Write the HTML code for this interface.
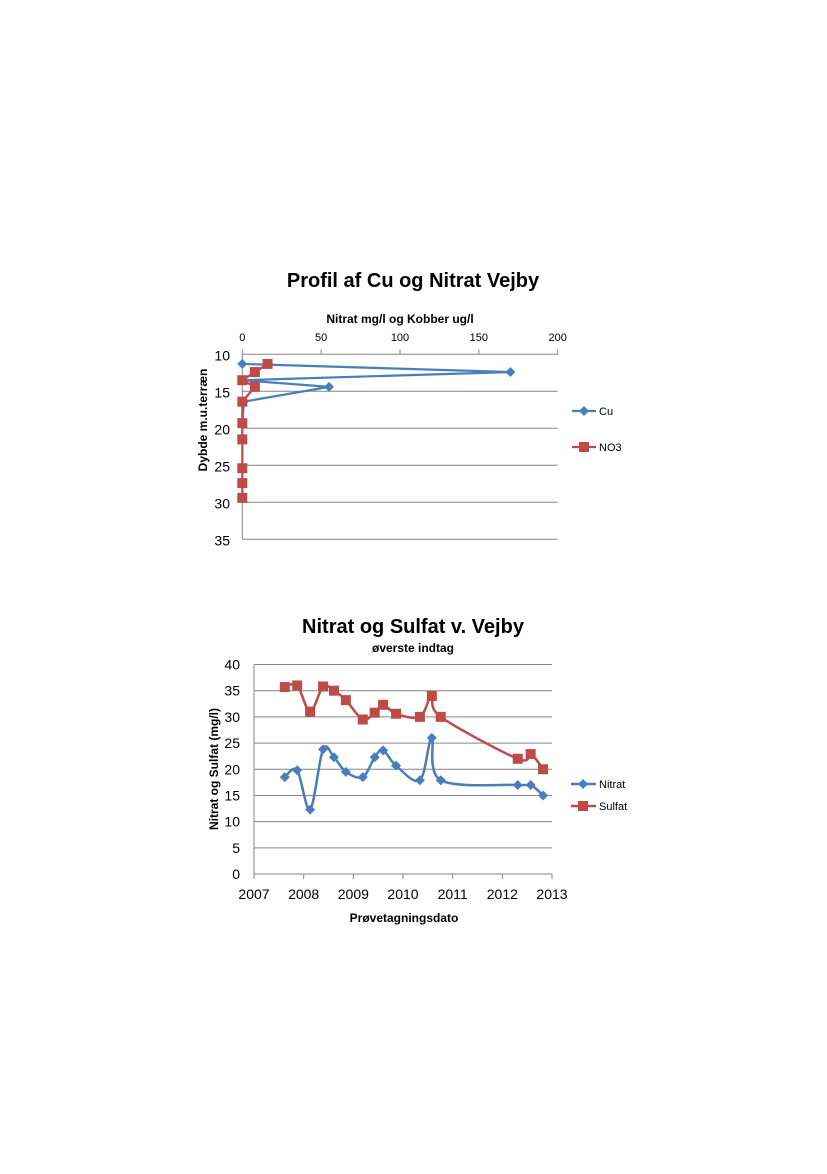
<!DOCTYPE html>
<html><head><meta charset="utf-8"><style>
body{margin:0;background:#fff;width:827px;height:1169px;overflow:hidden}
svg text{font-family:"Liberation Sans",sans-serif;fill:#000}
</style></head><body>
<svg width="827" height="1169">
<g id="c1">
<text x="413" y="287" text-anchor="middle" font-size="20" font-weight="bold">Profil af Cu og Nitrat Vejby</text>
<text x="400" y="323" text-anchor="middle" font-size="12" font-weight="bold">Nitrat mg/l og Kobber ug/l</text>
<text transform="translate(207,420) rotate(-90)" text-anchor="middle" font-size="12" font-weight="bold">Dybde m.u.terræn</text>
</g>
<g id="c2">
<text x="413" y="633" text-anchor="middle" font-size="20" font-weight="bold">Nitrat og Sulfat v. Vejby</text>
<text x="413" y="652" text-anchor="middle" font-size="12" font-weight="bold">øverste indtag</text>
<text x="404" y="922" text-anchor="middle" font-size="12" font-weight="bold">Prøvetagningsdato</text>
<text transform="translate(218,769) rotate(-90)" text-anchor="middle" font-size="12" font-weight="bold">Nitrat og Sulfat (mg/l)</text>
</g>
</svg>
<script>
const ns='http://www.w3.org/2000/svg';
function mk(p,t,a){const e=document.createElementNS(ns,t);for(const k in a)e.setAttribute(k,a[k]);p.appendChild(e);return e;}
// Chart 1 data
const c1XTicks=[0,50,100,150,200];
const c1YTicks=[10,15,20,25,30,35];
const cuX=[0,170,0,55,1,0];
const cuDepth=[11.3,12.4,13.5,14.4,16.4,19.3];
const no3X=[16,8,0,8,0,0,0,0,0,0];
const no3Depth=[11.3,12.4,13.5,14.4,16.4,19.3,21.5,25.4,27.4,29.4];
// Chart 2 data
const c2XTicks=[2007,2008,2009,2010,2011,2012,2013];
const c2YTicks=[0,5,10,15,20,25,30,35,40];
const dates=[2007.62,2007.87,2008.13,2008.39,2008.61,2008.85,2009.19,2009.43,2009.60,2009.86,2010.34,2010.58,2010.76,2012.31,2012.57,2012.82];
const nitrat=[18.5,19.8,12.3,23.8,22.3,19.5,18.5,22.3,23.6,20.7,17.9,26,17.9,17,17,15];
const sulfat=[35.7,36,31,35.8,35,33.2,29.5,30.8,32.3,30.6,30,34,30,22,22.9,20];

const BLUE='#4a7ebb',RED='#be4b48';
function diamond(g,x,y,c){const e=mk(g,'path',{d:`M${x} ${y-5}L${x+5} ${y}L${x} ${y+5}L${x-5} ${y}Z`,fill:c});

}
function square(g,x,y,c){const e=mk(g,'rect',{x:x-5,y:y-5,width:10,height:10,fill:c});

}
function smooth(pts){let d=`M${pts[0][0]} ${pts[0][1]}`;for(let i=0;i<pts.length-1;i++){const p0=pts[i-1]||pts[i],p1=pts[i],p2=pts[i+1],p3=pts[i+2]||p2;const t=6;d+=`C${p1[0]+(p2[0]-p0[0])/t} ${p1[1]+(p2[1]-p0[1])/t} ${p2[0]-(p3[0]-p1[0])/t} ${p2[1]-(p3[1]-p1[1])/t} ${p2[0]} ${p2[1]}`;}return d;}

// Chart 1
(function(){
const g=document.getElementById('c1');
const X0=242.3,X1=557.7,Y0=354.3,Y1=539.3;
const sx=v=>X0+(v-0)/200*(X1-X0), sy=v=>Y0+(v-10)/25*(Y1-Y0);
c1YTicks.forEach(t=>{const l=mk(g,'line',{x1:X0,x2:X1,y1:sy(t),y2:sy(t),stroke:'#868686','stroke-width':1});


const tx=mk(g,'text',{x:230,y:sy(t)+6,'text-anchor':'end','font-size':14});tx.textContent=t;

});
const ax=mk(g,'line',{x1:X0,x2:X0,y1:Y0,y2:Y1,stroke:'#868686'});


c1XTicks.forEach(t=>{const tk=mk(g,'line',{x1:sx(t),x2:sx(t),y1:Y0-5,y2:Y0,stroke:'#868686'});


const tx=mk(g,'text',{x:sx(t),y:341,'text-anchor':'middle','font-size':11});tx.textContent=t;

});
const lc=mk(g,'polyline',{points:cuX.map((v,i)=>sx(v)+','+sy(cuDepth[i])).join(' '),fill:'none',stroke:BLUE,'stroke-width':2.2});


cuX.slice(0,5).forEach((v,i)=>diamond(g,sx(v),sy(cuDepth[i]),BLUE));
const ln=mk(g,'polyline',{points:no3X.map((v,i)=>sx(v)+','+sy(no3Depth[i])).join(' '),fill:'none',stroke:RED,'stroke-width':2.2});


no3X.forEach((v,i)=>square(g,sx(v),sy(no3Depth[i]),RED));
[['Cu',BLUE,diamond,411],['NO3',RED,square,447]].forEach(([n,c,f,y])=>{
const l=mk(g,'line',{x1:572,x2:596,y1:y,y2:y,stroke:c,'stroke-width':2.2});


f(g,584,y,c);
const t=mk(g,'text',{x:599,y:y+4,'font-size':11});t.textContent=n;

});
})();

// Chart 2
(function(){
const g=document.getElementById('c2');
const X0=254,X1=552,Y0=874,Y1=664.5;
const sx=v=>X0+(v-2007)/6*(X1-X0), sy=v=>Y0+v/40*(Y1-Y0);
c2YTicks.forEach(t=>{if(t>0){const l=mk(g,'line',{x1:X0,x2:X1,y1:sy(t),y2:sy(t),stroke:'#868686'});

}
const tx=mk(g,'text',{x:240,y:sy(t)+5,'text-anchor':'end','font-size':14});tx.textContent=t;

});
const ax=mk(g,'path',{d:`M${X0} ${Y1}V${Y0}H${X1}`,fill:'none',stroke:'#868686'});


c2XTicks.forEach(t=>{const tk=mk(g,'line',{x1:sx(t),x2:sx(t),y1:Y0,y2:Y0+5,stroke:'#868686'});


const tx=mk(g,'text',{x:sx(t),y:899,'text-anchor':'middle','font-size':14});tx.textContent=t;

});
const ps=sulfat.map((v,i)=>[sx(dates[i]),sy(v)]);
const ls=mk(g,'path',{d:smooth(ps),fill:'none',stroke:RED,'stroke-width':2.5});


ps.forEach(p=>square(g,p[0],p[1],RED));
const pn=nitrat.map((v,i)=>[sx(dates[i]),sy(v)]);
const lnn=mk(g,'path',{d:smooth(pn),fill:'none',stroke:BLUE,'stroke-width':2.5});


pn.forEach(p=>diamond(g,p[0],p[1],BLUE));
[['Nitrat',BLUE,diamond,784],['Sulfat',RED,square,806]].forEach(([n,c,f,y])=>{
const l=mk(g,'line',{x1:571,x2:596,y1:y,y2:y,stroke:c,'stroke-width':2.5});


f(g,583,y,c);
const t=mk(g,'text',{x:599,y:y+4,'font-size':11});t.textContent=n;

});
})();
</script>
</body></html>
